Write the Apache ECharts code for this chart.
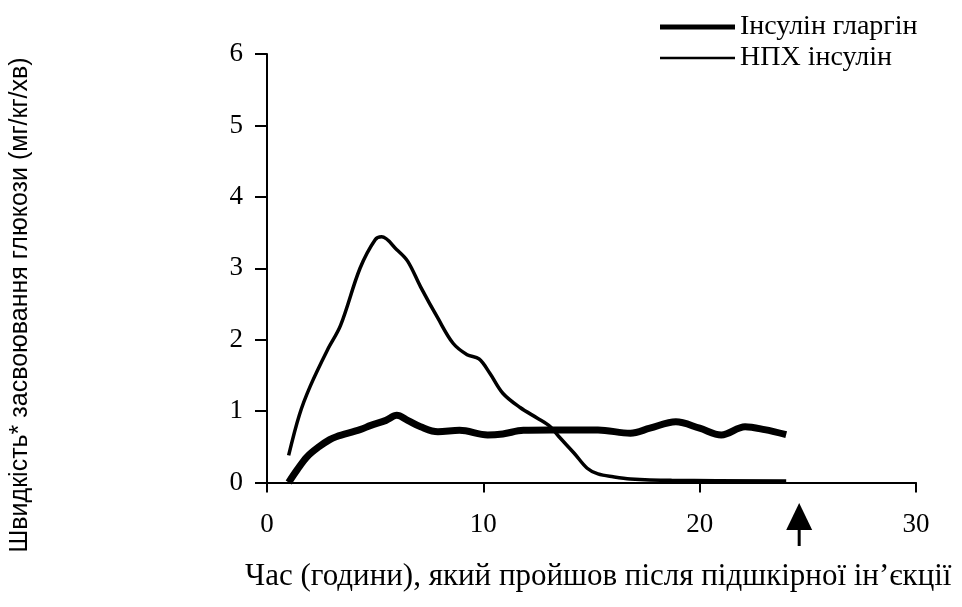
<!DOCTYPE html>
<html>
<head>
<meta charset="utf-8">
<script src="https://cdn.jsdelivr.net/npm/echarts@6/dist/echarts.min.js"></script>
<style>
html,body{margin:0;padding:0;background:#fff;}
#main{width:962px;height:607px;}
</style>
</head>
<body>
<div id="main"></div>
<script>
// Time after subcutaneous injection (hours)
var glargineTime = [1.0, 1.4, 1.85, 2.4, 2.9, 3.2, 4.3, 4.8, 5.5, 6.0, 6.5, 7.1, 7.9, 8.9, 10.2, 10.9, 11.85, 13.1, 15.3, 16.8, 17.7, 18.9, 20.0, 21.0, 22.1, 23.0, 24.0];
var glargineRate = [0.0, 0.18, 0.36, 0.5, 0.6, 0.64, 0.74, 0.8, 0.87, 0.94, 0.87, 0.78, 0.71, 0.73, 0.665, 0.68, 0.73, 0.735, 0.735, 0.69, 0.76, 0.85, 0.76, 0.665, 0.78, 0.74, 0.67];
var nphTime = [1.0, 1.5, 2.0, 2.8, 3.4, 4.3, 5.0, 5.3, 6.0, 6.5, 7.1, 7.9, 8.6, 9.25, 9.8, 10.3, 10.9, 11.7, 12.5, 13.1, 13.5, 14.2, 14.8, 15.3, 16.0, 16.8, 18.7, 24.0];
var nphRate = [0.38, 0.95, 1.35, 1.86, 2.2, 3.0, 3.4, 3.44, 3.26, 3.1, 2.74, 2.3, 1.95, 1.79, 1.73, 1.53, 1.25, 1.05, 0.9, 0.78, 0.64, 0.41, 0.2, 0.12, 0.08, 0.05, 0.03, 0.02];
var seriesNames = ['Інсулін гларгін', 'НПХ інсулін'];
var xTitle = 'Час (години), який пройшов після підшкірної ін’єкції';
var yTitle = 'Швидкість* засвоювання глюкози (мг/кг/хв)';
var arrowTime = 24.6;

function pairs(xs, ys){ return xs.map(function(x,i){ return [x, ys[i]]; }); }

var serif = 'Liberation Serif';
var chart = echarts.init(document.getElementById('main'), null, {renderer:'canvas'});
var option = {
  backgroundColor: '#ffffff',
  animation: false,
  grid: {left: 267, right: 46, top: 54, bottom: 124.5},
  legend: [
    {data:[seriesNames[0]], left: 655, top: 8, icon:'rect', itemWidth:75, itemHeight:5, itemGap:0,
     textStyle:{fontFamily:serif, fontSize:28, color:'#000'}},
    {data:[seriesNames[1]], left: 655, top: 39, icon:'rect', itemWidth:75, itemHeight:2.5, itemGap:0,
     textStyle:{fontFamily:serif, fontSize:28, color:'#000'}}
  ],
  xAxis: {
    type:'value', min:0, max:30, interval:10,
    axisLine:{show:true, onZero:false, lineStyle:{color:'#000', width:2}},
    axisTick:{show:true, inside:false, length:10, lineStyle:{color:'#000', width:2}},
    splitLine:{show:false},
    axisLabel:{color:'#000', fontFamily:serif, fontSize:27, margin:29}
  },
  yAxis: {
    type:'value', min:0, max:6, interval:1,
    axisLine:{show:true, lineStyle:{color:'#000', width:2}},
    axisTick:{show:true, inside:false, length:12, lineStyle:{color:'#000', width:2}},
    splitLine:{show:false},
    axisLabel:{color:'#000', fontFamily:serif, fontSize:27, margin:24, padding:[6,0,0,0]}
  },
  series: [
    {name:seriesNames[0], type:'line', data:pairs(glargineTime, glargineRate), smooth:0.35, showSymbol:false,
     lineStyle:{color:'#000', width:7}, itemStyle:{color:'#000'}},
    {name:seriesNames[1], type:'line', data:pairs(nphTime, nphRate), smooth:0.35, showSymbol:false,
     lineStyle:{color:'#000', width:3.5}, itemStyle:{color:'#000'}}
  ]
};
chart.setOption(option);
var ax = chart.convertToPixel({xAxisIndex:0}, arrowTime);
chart.setOption({
  graphic: [
    {type:'text', x: 245, y: 577,
     style:{text:xTitle, fontFamily:serif, fontSize:31, fill:'#000', align:'left', verticalAlign:'middle'}},
    {type:'text', x: 20, y: 305, rotation: Math.PI/2,
     style:{text:yTitle, fontFamily:'Liberation Sans', fontSize:25, fill:'#000', align:'center', verticalAlign:'middle'}},
    {type:'polygon', shape:{points:[[ax, 503],[ax-13, 530],[ax+13, 530]]}, style:{fill:'#000'}},
    {type:'line', shape:{x1:ax, y1:528, x2:ax, y2:546}, style:{stroke:'#000', lineWidth:3}}
  ]
});
</script>
</body>
</html>
